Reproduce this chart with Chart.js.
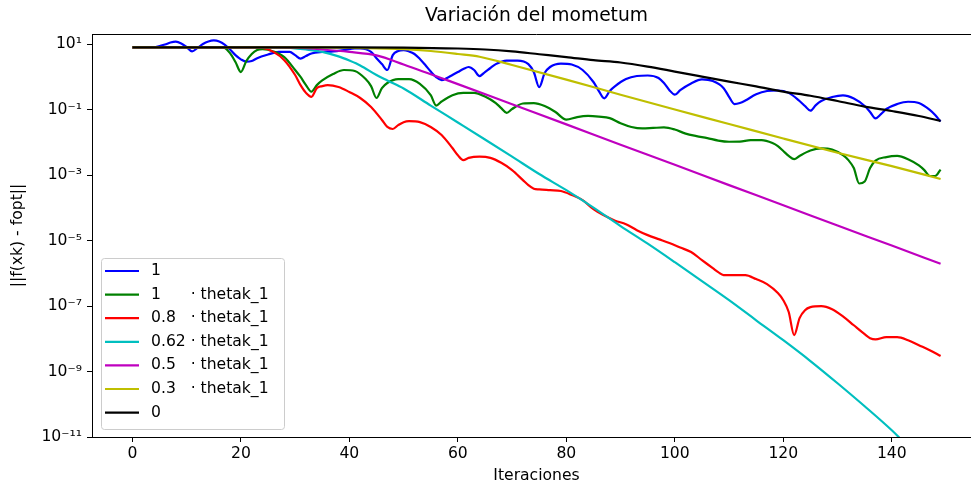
<!DOCTYPE html>
<html>
<head>
<meta charset="utf-8">
<script src="https://cdn.jsdelivr.net/npm/chart.js@4.4.1/dist/chart.umd.min.js"></script>
<style>
  html, body { margin: 0; padding: 0; background: #fff; overflow: hidden; }
  #wrap { width: 1000px; height: 487px; }
</style>
</head>
<body>
<div id="wrap"><canvas id="grafico" width="1000" height="487"></canvas></div>
<script>
// ||f(xk) - fopt|| por iteracion: [iteracion, valor]
const ptsAzul = [[0,8.1],[2,8.1],[4,8.1],[5,8.9],[6,9.9],[7,11.4],[8,12.1],[9,10.7],[10,8.3],[11,6.1],[12,7.8],[13,10.3],[14,12.3],[15,13.2],[16,12.3],[17,9.9],[18,7.0],[19,4.7],[20,3.5],[21,2.96],[22,3.1],[23,3.8],[25,4.9],[27,5.9],[29,5.9],[30,4.7],[31,3.7],[32,4.4],[33,5.3],[35,5.9],[37,6.1],[39,6.7],[41,7.5],[42,7.5],[44,5.9],[45,3.8],[46,2.5],[47,1.65],[48,4.7],[49,6.3],[50,6.7],[51,6.1],[52,5.1],[53,3.6],[54,2.34],[55,1.48],[56,1.0],[57,0.81],[58,0.94],[59,1.16],[60,1.43],[61,1.77],[62,2.04],[63,1.65],[64,1.08],[65,1.43],[66,1.9],[67,2.5],[69,3.2],[71,3.2],[73,2.5],[74,1.43],[75,0.49],[76,1.33],[77,2.04],[79,2.6],[81,2.43],[83,1.65],[85,0.71],[86,0.376],[87,0.225],[88,0.376],[89,0.53],[91,0.87],[93,1.08],[95,1.12],[97,0.94],[98,0.66],[99,0.40],[100,0.29],[101,0.40],[103,0.64],[105,0.85],[107,0.76],[109,0.46],[110,0.25],[111,0.15],[112,0.161],[113,0.192],[115,0.30],[117,0.376],[119,0.39],[121,0.33],[123,0.186],[124,0.131],[125,0.094],[126,0.14],[127,0.186],[129,0.246],[131,0.277],[133,0.222],[135,0.131],[136,0.086],[137,0.055],[138,0.074],[139,0.106],[141,0.15],[143,0.177],[145,0.161],[147,0.099],[148,0.069],[149,0.044]];

const ptsVerde = [[0,8.1],[16,8.1],[17,7.8],[18,5.4],[19,2.9],[20,1.43],[21,3.1],[22,5.1],[23,6.7],[24,7.1],[26,6.1],[28,4.1],[30,1.65],[31,1.01],[32,0.57],[33,0.36],[34,0.57],[35,0.79],[37,1.24],[39,1.65],[41,1.54],[43,0.87],[44,0.53],[45,0.23],[46,0.46],[47,0.66],[49,0.87],[51,0.87],[53,0.62],[55,0.28],[56,0.135],[57,0.18],[59,0.28],[61,0.33],[63,0.33],[65,0.255],[67,0.161],[68,0.113],[69,0.081],[70,0.106],[72,0.156],[74,0.161],[76,0.131],[78,0.086],[80,0.050],[82,0.060],[84,0.065],[86,0.062],[88,0.056],[90,0.039],[92,0.030],[94,0.027],[96,0.028],[98,0.029],[100,0.025],[102,0.0188],[104,0.0158],[106,0.0137],[108,0.0115],[110,0.0106],[112,0.0107],[114,0.0119],[116,0.0119],[118,0.0097],[119,0.0078],[120,0.0055],[121,0.0039],[122,0.0031],[123,0.0039],[125,0.0057],[127,0.0066],[129,0.0061],[131,0.0041],[132,0.0029],[133,0.00166],[134,0.00056],[135,0.00064],[136,0.00166],[137,0.0028],[139,0.0036],[141,0.0039],[143,0.0031],[145,0.0020],[146,0.00144],[147,0.00095],[148,0.00095],[149,0.00149]];

const ptsRojo = [[0,8.1],[22,8.1],[24,7.8],[26,5.9],[28,3.3],[30,1.16],[31,0.57],[32,0.33],[33,0.25],[34,0.46],[35,0.53],[36,0.57],[38,0.50],[40,0.35],[42,0.23],[44,0.122],[46,0.049],[47,0.030],[48,0.026],[49,0.034],[50,0.042],[51,0.045],[53,0.042],[55,0.030],[57,0.017],[59,0.0068],[60,0.0041],[61,0.0029],[62,0.0034],[64,0.0037],[66,0.0034],[68,0.0024],[70,0.00144],[72,7.1e-4],[73,5.0e-4],[74,3.9e-4],[75,3.7e-4],[77,3.5e-4],[79,3.3e-4],[81,2.5e-4],[83,1.74e-4],[85,9.2e-5],[87,5.9e-5],[89,4.1e-5],[91,3.2e-5],[93,2.1e-5],[95,1.48e-5],[97,1.12e-5],[99,8.5e-6],[101,6.2e-6],[103,4.5e-6],[105,2.55e-6],[107,1.45e-6],[108,1.09e-6],[109,8.9e-7],[111,8.9e-7],[113,8.9e-7],[115,6.7e-7],[117,4.7e-7],[119,2.5e-7],[120,1.52e-7],[121,6.6e-8],[122,1.3e-8],[123,4.3e-8],[124,7.5e-8],[125,9.3e-8],[127,1.0e-7],[129,8.1e-8],[131,4.9e-8],[133,2.6e-8],[135,1.39e-8],[136,1.05e-8],[137,9.6e-9],[139,1.13e-8],[141,1.13e-8],[143,9.1e-9],[145,6.4e-9],[147,4.5e-9],[149,3.0e-9]];

const ptsCian = [[0,8.1],[25,8.1],[28,7.9],[30,7.6],[32,7.0],[35,5.9],[38,4.3],[40,3.2],[42,2.27],[45,1.16],[47,0.79],[50,0.45],[55,0.135],[60,0.041],[65,0.0124],[70,0.0037],[75,1.09e-3],[80,3.5e-4],[85,1.03e-4],[90,2.8e-5],[95,8.1e-6],[100,2.2e-6],[105,5.8e-7],[110,1.52e-7],[115,3.7e-8],[120,9.1e-9],[125,2.1e-9],[130,4.4e-10],[135,8.7e-11],[140,1.6e-11],[145,2.4e-12],[149,5.5e-13]];

const ptsMagenta = [[0,8.1],[25,8.1],[30,7.9],[35,7.0],[40,5.9],[45,4.6],[50,2.43],[60,0.61],[70,0.148],[80,0.036],[90,0.0086],[100,0.0021],[110,5.0e-4],[120,1.22e-4],[130,2.9e-5],[140,7.1e-6],[149,1.97e-6]];

const ptsAmarillo = [[0,8.1],[35,8.1],[40,7.9],[45,7.5],[50,7.2],[55,6.3],[60,5.1],[64,4.2],[70,2.34],[80,0.84],[90,0.29],[100,0.102],[110,0.037],[120,0.0133],[130,0.0049],[140,0.0019],[149,7.7e-4]];

const ptsNegro = [[0,8.1],[40,8.1],[50,8.0],[60,7.5],[65,7.0],[70,6.1],[75,5.0],[80,4.1],[85,3.3],[90,2.8],[95,2.1],[100,1.48],[105,1.04],[110,0.73],[115,0.52],[120,0.36],[125,0.27],[130,0.186],[135,0.126],[140,0.092],[145,0.065],[149,0.046]];

const etiquetas = ['1', '1      \u00b7 thetak_1', '0.8   \u00b7 thetak_1', '0.62 \u00b7 thetak_1', '0.5   \u00b7 thetak_1', '0.3   \u00b7 thetak_1', '0'];
const colores = ['#0000ff', '#008000', '#ff0000', '#00bfbf', '#bf00bf', '#bfbf00', '#000000'];
const series = [ptsAzul, ptsVerde, ptsRojo, ptsCian, ptsMagenta, ptsAmarillo, ptsNegro];

const xTicks = [0, 20, 40, 60, 80, 100, 120, 140];
const yTicks = [1e1, 1e-1, 1e-3, 1e-5, 1e-7, 1e-9, 1e-11];
const yTickLabels = ['10\u00b9', '10\u207b\u00b9', '10\u207b\u00b3', '10\u207b\u2075', '10\u207b\u2077', '10\u207b\u2079', '10\u207b\u00b9\u00b9'];

const FUENTE = '"DejaVu Sans", sans-serif';
const TAM = 15.6;

const datasets = series.map((pts, i) => ({
  label: etiquetas[i],
  data: pts.map(p => ({ x: p[0], y: p[1] })),
  borderColor: colores[i],
  backgroundColor: colores[i],
  borderWidth: 2.2,
  pointRadius: 0,
  cubicInterpolationMode: 'monotone',
  fill: false,
  order: series.length - 1 - i   // el ultimo queda arriba, como en matplotlib
}));

// titulo, etiquetas de ejes, marco y leyenda
const decoracion = {
  id: 'decoracion',
  afterDatasetsDraw(chart) {
    const ctx = chart.ctx;
    const a = chart.chartArea;
    ctx.save();

    // marco superior y derecho
    ctx.strokeStyle = '#000';
    ctx.lineWidth = 1;
    ctx.beginPath();
    ctx.moveTo(a.left, a.top + 0.5);
    ctx.lineTo(a.right, a.top + 0.5);
    ctx.lineTo(a.right, a.bottom);
    ctx.stroke();

    // leyenda
    const lx = 101, ly = 258, lw = 183, lh = 171;
    ctx.fillStyle = 'rgba(255,255,255,0.8)';
    ctx.strokeStyle = '#cccccc';
    ctx.beginPath();
    ctx.roundRect(lx + 0.5, ly + 0.5, lw, lh, 3);
    ctx.fill();
    ctx.stroke();

    ctx.font = TAM + 'px ' + FUENTE;
    ctx.textBaseline = 'middle';
    ctx.textAlign = 'left';
    for (let i = 0; i < etiquetas.length; i++) {
      const yy = 271 + i * 23.6;
      ctx.strokeStyle = colores[i];
      ctx.lineWidth = 2.2;
      ctx.beginPath();
      ctx.moveTo(105, yy);
      ctx.lineTo(139, yy);
      ctx.stroke();
      ctx.fillStyle = '#000';
      ctx.fillText(etiquetas[i], 151, yy);
    }

    // titulos
    ctx.fillStyle = '#000';
    ctx.textAlign = 'center';
    ctx.font = '18.7px ' + FUENTE;
    ctx.fillText('Variación del mometum', (a.left + a.right) / 2, 16);
    ctx.font = TAM + 'px ' + FUENTE;
    ctx.fillText('Iteraciones', (a.left + a.right) / 2, 476);
    ctx.translate(18, (a.top + a.bottom) / 2);
    ctx.rotate(-Math.PI / 2);
    ctx.fillText('||f(xk) - fopt||', 0, 0);
    ctx.restore();
  }
};

const chart = new Chart(document.getElementById('grafico').getContext('2d'), {
  type: 'line',
  data: { datasets: datasets },
  plugins: [decoracion],
  options: {
    responsive: false,
    animation: false,
    devicePixelRatio: 1,
    layout: { padding: { left: 0, top: 34, right: 19, bottom: 0 } },
    plugins: {
      legend: { display: false },
      tooltip: { enabled: false },
      title: { display: false }
    },
    scales: {
      x: {
        type: 'linear',
        min: -7.45,
        max: 156.45,
        afterBuildTicks: s => { s.ticks = xTicks.map(v => ({ value: v })); },
        afterFit: s => { s.height = 50; },
        ticks: { color: '#000', font: { family: FUENTE, size: TAM }, padding: 3, maxRotation: 0 },
        grid: { drawOnChartArea: false, drawTicks: true, tickLength: 5, color: '#000' },
        border: { display: true, color: '#000', width: 1 }
      },
      y: {
        type: 'logarithmic',
        min: 1e-11,
        max: 20.8,
        afterBuildTicks: s => { s.ticks = yTicks.map(v => ({ value: v })); },
        afterFit: s => { s.width = 92; },
        ticks: {
          color: '#000',
          font: { family: FUENTE, size: TAM },
          padding: 5,
          callback: (v, i) => yTickLabels[i]
        },
        grid: { drawOnChartArea: false, drawTicks: true, tickLength: 5, color: '#000' },
        border: { display: true, color: '#000', width: 1 }
      }
    }
  }
});
</script>
</body>
</html>
